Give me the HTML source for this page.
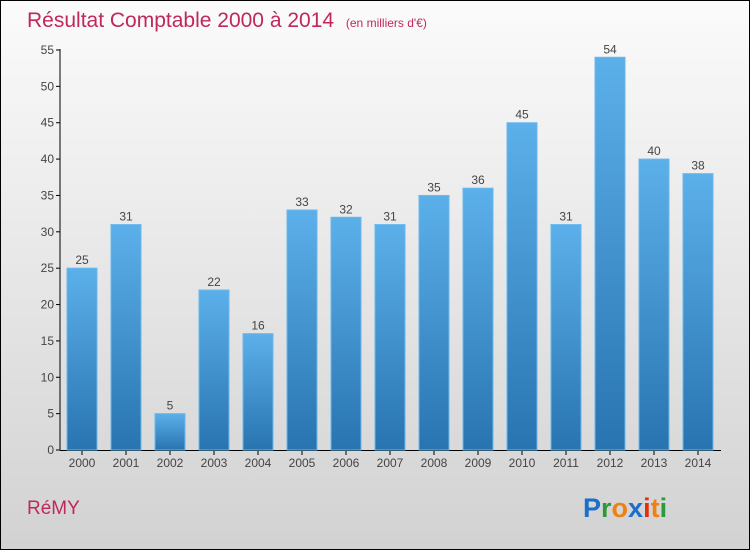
<!DOCTYPE html>
<html><head><meta charset="utf-8"><style>
body{margin:0}
#c{width:750px;height:550px;position:relative;box-sizing:border-box;border:1px solid #000;background:linear-gradient(#fbfbfb,#d2d2d2);font-family:"Liberation Sans",sans-serif;overflow:hidden}
</style></head><body>
<div id="c">
<svg width="748" height="548" style="position:absolute;left:0;top:0" id="s">
<defs><linearGradient id="bg" x1="0" y1="0" x2="0" y2="1"><stop offset="0" stop-color="#5cb0ea"/><stop offset="1" stop-color="#2874b0"/></linearGradient></defs>
<text x="26" y="26" font-size="21" fill="#c0285a">Résultat Comptable 2000 à 2014 <tspan font-size="12" dx="6">(en milliers d'€)</tspan></text>
<text x="26" y="513" font-size="19" fill="#c0285a">RéMY</text>
<text x="582" y="516" font-size="27" font-weight="bold"><tspan fill="#1a6fcc">P</tspan><tspan fill="#2a9a3a">r</tspan><tspan fill="#f08010">o</tspan><tspan fill="#1a6fcc">x</tspan><tspan fill="#e03010">i</tspan><tspan fill="#f08010">t</tspan><tspan fill="#2a9a3a">i</tspan></text>
<g id="g"></g>
</svg>
</div>
<script>
const years=["2000","2001","2002","2003","2004","2005","2006","2007","2008","2009","2010","2011","2012","2013","2014"];
const values=[25,31,5,22,16,33,32,31,35,36,45,31,54,40,38];
const ticks=[0,5,10,15,20,25,30,35,40,45,50,55];
const NS="http://www.w3.org/2000/svg",g=document.getElementById('g');
const y=v=>449-v*400/55, x=i=>81+i*44;
function el(t,a,txt){const e=document.createElementNS(NS,t);for(const k in a)e.setAttribute(k,a[k]);if(txt!=null)e.textContent=txt;g.appendChild(e);return e;}
let ax=el('line',{x1:59,y1:y(55)-1,x2:59,y2:449.5,stroke:'#000'});


let bx=el('line',{x1:59,y1:449.5,x2:720,y2:449.5,stroke:'#000'});


ticks.forEach(t=>{
 let l=el('line',{x1:55,x2:59,y1:y(t),y2:y(t),stroke:'#000'});
 
 
 let tx=el('text',{x:53,y:y(t)+4,'font-size':12,fill:'#444','text-anchor':'end'},t);
 
 
});
years.forEach((yr,i)=>{
 const v=values[i];
 let r=el('rect',{x:x(i)-15,y:y(v),width:30,height:449-y(v),fill:'url(#bg)',stroke:'#6ab8ee','stroke-width':1});
 
 
 let vl=el('text',{x:x(i),y:y(v)-4,'font-size':12,fill:'#444','text-anchor':'middle'},v);
 
 
 let tk=el('line',{x1:x(i),x2:x(i),y1:450,y2:454,stroke:'#000'});
 
 
 let xl=el('text',{x:x(i),y:466,'font-size':12,fill:'#444','text-anchor':'middle'},yr);
 
 
});
</script>
</body></html>
